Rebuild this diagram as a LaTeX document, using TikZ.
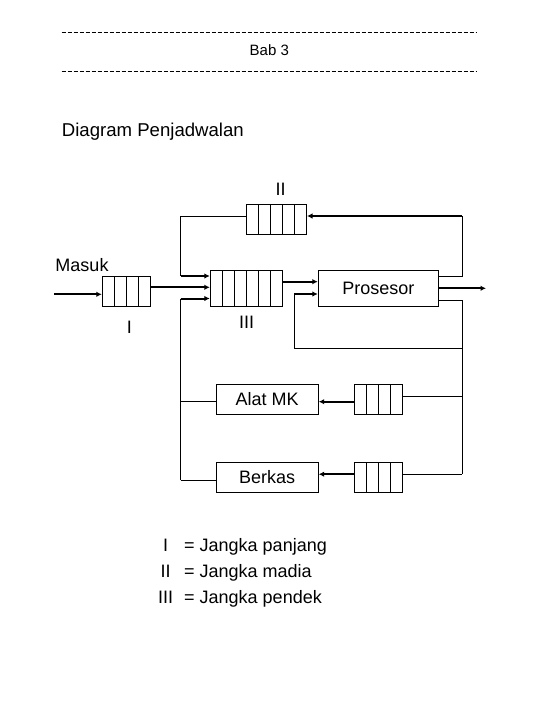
\documentclass[tikz,border=0pt]{standalone}
\usepackage{fontspec}
\setmainfont{Liberation Sans}
\usetikzlibrary{arrows.meta,calc}
\tikzset{
  ln/.style={line width=1pt},
  arr/.style={line width=2pt,-{Latex[length=5.5pt,width=5.5pt]}},
  txt/.style={inner sep=0pt,font=\fontsize{18}{18}\selectfont},
  box/.style={draw,line width=1pt,inner sep=0pt,font=\fontsize{18}{18}\selectfont},
  queue/.style={box,minimum width=#1*12pt,minimum height=30pt,
    path picture={\pgfmathtruncatemacro{\qlast}{#1-1}
      \foreach \k in {1,...,\qlast}
        \draw[line width=1pt]
          ($(path picture bounding box.north west)!{\k/#1}!(path picture bounding box.north east)$) --
          ($(path picture bounding box.south west)!{\k/#1}!(path picture bounding box.south east)$);}},
  hdash/.style={line width=1pt,dash pattern=on 4pt off 2pt}
}
\begin{document}
\begin{tikzpicture}[x=1pt,y=-1pt]
\useasboundingbox (0,0) rectangle (540,720);
% header
\coordinate (h1a) at (61.7,32.3);
\coordinate (h1b) at (476,32.3);
\coordinate (h2a) at (61.7,71.7);
\coordinate (h2b) at (476,71.7);
\draw[hdash] (h1a) -- (h1b);
\draw[hdash] (h2a) -- (h2b);
\node[inner sep=0pt,anchor=base,font=\fontsize{15}{15}\selectfont] (bab) at (269.3,55.7) {Bab 3};
\node[inner sep=0pt,anchor=base west,font=\fontsize{18.6}{18.6}\selectfont] (title) at (61.7,136.7) {Diagram Penjadwalan};
% boxes
\node[queue=4] (qI) at (126.3,291) {};
\node[queue=5] (qII) at (276.5,219.2) {};
\node[queue=6,minimum height=36pt] (qIII) at (246.3,288) {};
\node[box,minimum width=120pt,minimum height=36pt] (proc) at (378.3,288) {Prosesor};
\node[queue=4] (qA) at (378.3,399.2) {};
\node[box,minimum width=102pt,minimum height=30pt] (alat) at (267.2,399.2) {Alat MK};
\node[queue=4] (qB) at (378.3,477.3) {};
\node[box,minimum width=102pt,minimum height=30pt] (berkas) at (267.2,477.3) {Berkas};
% labels
\node[txt,anchor=base] (masuk) at (82,271.7) {Masuk};
\node[txt,anchor=base] (lI) at (129.3,333) {I};
\node[txt,anchor=base] (lIII) at (246.7,328.5) {III};
\node[txt,anchor=base] (lII) at (280.7,195) {II};
% junction coordinates
\coordinate (in) at (54,294.3);
\coordinate (yI) at (170,287.3);
\coordinate (yP) at (300,281.7);
\coordinate (Lt) at (180.7,216.5);
\coordinate (La) at (180.7,276);
\coordinate (Lb) at (180.7,298.5);
\coordinate (Lc) at (180.7,401.7);
\coordinate (Ld) at (180.7,480);
\coordinate (Rt) at (462.3,216);
\coordinate (Rp) at (462.3,276);
\coordinate (Rq) at (462.3,300.5);
\coordinate (Rl) at (462.3,348.3);
\coordinate (Ll) at (294.3,348.3);
\coordinate (Lp) at (294.3,294);
\coordinate (Ra) at (462.3,396);
\coordinate (Rb) at (462.3,474.2);
\coordinate (out) at (486,288.3);
% connectors
\draw[arr] (in) -- (qI.west |- in);
\draw[arr] (qI.east |- yI) -- (qIII.west |- yI);
\draw[ln] (qII.west |- Lt) -- (Lt) -- (La);
\draw[arr] (La) -- (qIII.west |- La);
\draw[ln] (Lb) -- (Ld);
\draw[arr] (Lb) -- (qIII.west |- Lb);
\draw[ln] (Lc) -- (alat.west |- Lc);
\draw[ln] (Ld) -- (berkas.west |- Ld);
\draw[arr] (qIII.east |- yP) -- (proc.west |- yP);
\draw[ln] (proc.east |- Rq) -- (Rq) -- (Rb);
\draw[ln] (Rl) -- (Ll) -- (Lp);
\draw[arr] (Lp) -- (proc.west |- Lp);
\draw[ln] (proc.east |- Rp) -- (Rp) -- (Rt);
\draw[arr] (Rt) -- (qII.east |- Rt);
\draw[arr] (proc.east |- out) -- (out);
\draw[arr] (qA.west |- Lc) -- (alat.east |- Lc);
\draw[arr] (qB.west |- Rb) -- (berkas.east |- Rb);
\draw[ln] (qA.east |- Ra) -- (Ra);
\draw[ln] (qB.east |- Rb) -- (Rb);
% legend
\node[txt,anchor=base] (n1) at (165.5,551.7) {I};
\node[txt,anchor=base] (n2) at (165.5,577.5) {II};
\node[txt,anchor=base] (n3) at (165.5,603.3) {III};
\node[txt,anchor=base west] (d1) at (184,551.7) {= Jangka panjang};
\node[txt,anchor=base west] (d2) at (184,577.5) {= Jangka madia};
\node[txt,anchor=base west] (d3) at (184,603.3) {= Jangka pendek};
\end{tikzpicture}
\end{document}
